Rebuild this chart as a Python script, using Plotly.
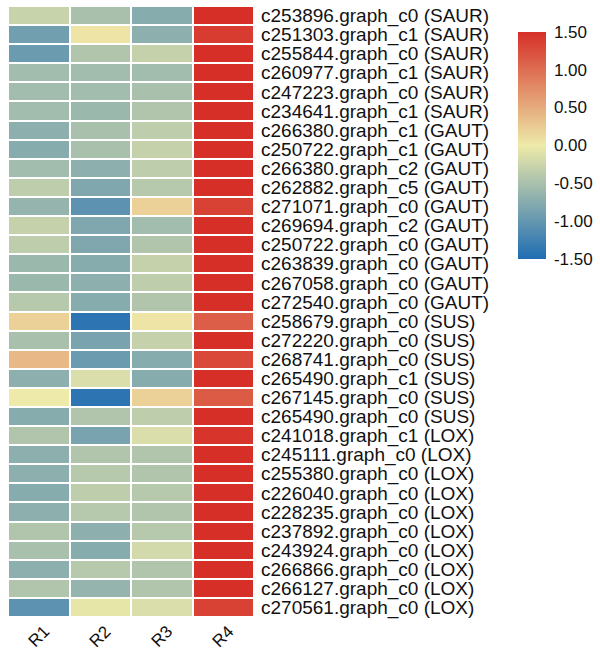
import plotly.graph_objects as go

columns = ["R1", "R2", "R3", "R4"]
genes = [
    "c253896.graph_c0 (SAUR)", "c251303.graph_c1 (SAUR)", "c255844.graph_c0 (SAUR)",
    "c260977.graph_c1 (SAUR)", "c247223.graph_c0 (SAUR)", "c234641.graph_c1 (SAUR)",
    "c266380.graph_c1 (GAUT)", "c250722.graph_c1 (GAUT)", "c266380.graph_c2 (GAUT)",
    "c262882.graph_c5 (GAUT)", "c271071.graph_c0 (GAUT)", "c269694.graph_c2 (GAUT)",
    "c250722.graph_c0 (GAUT)", "c263839.graph_c0 (GAUT)", "c267058.graph_c0 (GAUT)",
    "c272540.graph_c0 (GAUT)", "c258679.graph_c0 (SUS)", "c272220.graph_c0 (SUS)",
    "c268741.graph_c0 (SUS)", "c265490.graph_c1 (SUS)", "c267145.graph_c0 (SUS)",
    "c265490.graph_c0 (SUS)", "c241018.graph_c1 (LOX)", "c245111.graph_c0 (LOX)",
    "c255380.graph_c0 (LOX)", "c226040.graph_c0 (LOX)", "c228235.graph_c0 (LOX)",
    "c237892.graph_c0 (LOX)", "c243924.graph_c0 (LOX)", "c266866.graph_c0 (LOX)",
    "c266127.graph_c0 (LOX)", "c270561.graph_c0 (LOX)",
]

r1 = [-0.28, -0.9, -0.95, -0.55, -0.55, -0.55, -0.7, -0.75, -0.55, -0.35, -0.65,
      -0.3, -0.35, -0.6, -0.6, -0.4, 0.2, -0.5, 0.4, -0.7, 0.0, -0.75, -0.45,
      -0.7, -0.7, -0.75, -0.7, -0.45, -0.5, -0.7, -0.45, -1.05]
r2 = [-0.5, 0.05, -0.45, -0.55, -0.55, -0.6, -0.5, -0.5, -0.7, -0.8, -1.05,
      -0.8, -0.8, -0.75, -0.7, -0.75, -1.4, -0.85, -0.95, -0.15, -1.4, -0.45,
      -0.85, -0.45, -0.4, -0.35, -0.4, -0.7, -0.75, -0.4, -0.65, -0.05]
r3 = [-0.75, -0.7, -0.3, -0.55, -0.5, -0.45, -0.35, -0.3, -0.35, -0.4, 0.2,
      -0.55, -0.45, -0.3, -0.35, -0.45, 0.05, -0.3, -0.75, -0.75, 0.2, -0.35,
      -0.15, -0.45, -0.45, -0.4, -0.45, -0.4, -0.2, -0.45, -0.45, -0.15]
r4 = [1.5, 1.4, 1.5, 1.5, 1.5, 1.5, 1.5, 1.5, 1.5, 1.5, 1.35,
      1.5, 1.5, 1.5, 1.5, 1.5, 1.12, 1.5, 1.3, 1.5, 1.15, 1.5,
      1.45, 1.5, 1.5, 1.5, 1.5, 1.5, 1.5, 1.5, 1.5, 1.35]

cbar_vals = [-1.5, -1.0, -0.5, 0.0, 0.5, 1.0, 1.5]
cbar_text = ["-1.50", "-1.00", "-0.50", "0.00", "0.50", "1.00", "1.50"]

z = [list(v) for v in zip(r1, r2, r3, r4)]

W, H = 600, 654
FONT = "Arial, Liberation Sans, sans-serif"

fig = go.Figure(go.Heatmap(
    z=z, x=columns, y=genes,
    zmin=-1.5, zmax=1.5,
    colorscale=[[0, "#1F6DB3"], [0.5, "#EEEAA9"], [1, "#D62F27"]],
    xgap=2, ygap=2,
    colorbar=dict(
        xref="container", x=518 / W, xanchor="left",
        yref="container", y=1 - 34 / H, yanchor="top",
        lenmode="pixels", len=227, thickness=28,
        xpad=0, ypad=0, outlinewidth=0,
        tickvals=cbar_vals, ticktext=cbar_text,
        ticks="outside", ticklen=5, tickcolor="rgba(0,0,0,0)",
        tickfont=dict(family=FONT, size=17, color="#111111"),
    ),
))

for c in columns:
    fig.add_annotation(
        x=c, xref="x", y=0, yref="paper", yanchor="top",
        text=c, showarrow=False, textangle=-45,
        font=dict(family=FONT, size=17, color="#111111"),
        yshift=-2,
    )

fig.update_layout(
    width=W, height=H,
    margin=dict(l=8, r=W - 254, t=6, b=H - 617, autoexpand=False),
    paper_bgcolor="white", plot_bgcolor="white",
    xaxis=dict(showticklabels=False, ticks="", showgrid=False, zeroline=False,
               automargin=False),
    yaxis=dict(
        autorange="reversed", side="right", ticks="", showgrid=False,
        zeroline=False, ticklabelstandoff=6, automargin=False,
        tickmode="array", tickvals=genes, ticktext=genes,
        tickfont=dict(family=FONT, size=19, color="#111111"),
    ),
)

fig.write_html("out.html", config={"displayModeBar": False},
               post_script="document.body.style.margin='0';")
